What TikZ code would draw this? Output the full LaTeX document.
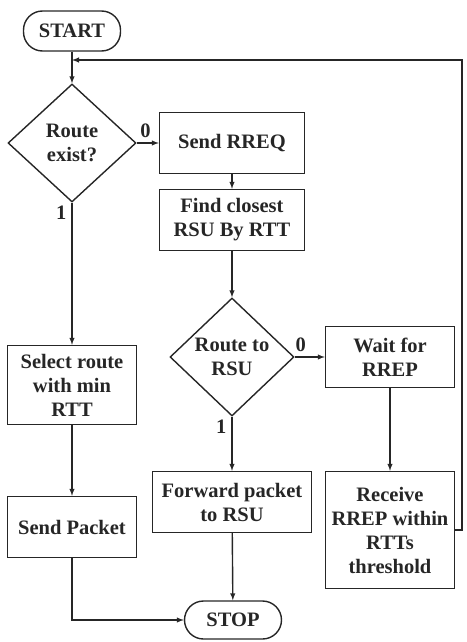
\documentclass[tikz,border=0pt]{standalone}
\usepackage{fontspec}
\newfontfamily\flowfont{Liberation Serif}[BoldFont={Liberation Serif Bold}]
\usetikzlibrary{shapes.geometric,arrows.meta,positioning}
\tikzset{
  base/.style={
    draw=black!85,
    line width=1.4pt,
    text=black!85,
    font=\flowfont\fontsize{20.5}{24}\selectfont\bfseries,
    align=center,
    inner sep=2pt
  },
  term/.style={base, rectangle, rounded corners=19pt,
    minimum width=97pt, minimum height=40pt},
  proc/.style={base, rectangle, minimum width=#1, minimum height=61pt},
  proc/.default=145pt,
  dec/.style={base, diamond, inner sep=0pt,
    minimum width=#1, minimum height=118pt},
  flow/.style={draw=black!85, line width=1.4pt, ->},
  lbl/.style={text=black!85, font=\flowfont\fontsize{20.5}{22}\selectfont\bfseries}
}

\begin{document}
\begin{tikzpicture}[>=latex, x=1pt, y=-1pt]
\useasboundingbox (0,0) rectangle (466,642);

\node[term] at (72,31) (start) {START};
\node[dec=128pt] at (72,143) (dec1) {Route\\exist?};
\node[proc] at (232,143) (rreq) {Send RREQ};
\node[proc] at (232,220) (find) {Find closest\\RSU By RTT};
\node[dec=124pt] at (232,357) (dec2) {Route to\\RSU};
\node[proc=129pt] at (390,357) (wait) {Wait for\\RREP};
\node[proc=129pt, minimum height=117pt] at (390,530) (recv)
  {Receive\\RREP within\\RTTs\\threshold};
\node[proc=129pt, minimum height=79pt] at (72,385) (select)
  {Select route\\with min\\RTT};
\node[proc=129pt] at (72,527) (sendpkt) {Send Packet};
\node[proc=159pt] at (232,502) (fwd) {Forward packet\\to RSU};
\node[term, minimum height=38pt] at (233,620) (stop) {STOP};

\coordinate (loop) at (462,60);

\draw[flow] (start) -- (dec1);
\draw[flow] (dec1.east) -- node[lbl, above=1pt, pos=0.4] {0} (rreq.west);
\draw[flow] (rreq) -- (find);
\draw[flow] (find) -- (dec2);
\draw[flow] (dec1.south) -- (select.north);
\draw[flow] (select) -- (sendpkt);
\draw[flow] (sendpkt.south) |- (stop.west);
\draw[flow] (dec2.east) -- node[lbl, above=1pt, pos=0.2] {0} (wait.west);
\draw[flow] (dec2.south) -- (fwd.north);
\draw[flow] (fwd) -- (stop);
\draw[flow] (wait) -- (recv);
\draw[flow] (recv.east) -| (loop) -- (start.south |- loop);

\node[lbl, below left=0pt and 2pt of dec1.south] {1};
\node[lbl, below left=0pt and 2pt of dec2.south] {1};
\end{tikzpicture}
\end{document}
